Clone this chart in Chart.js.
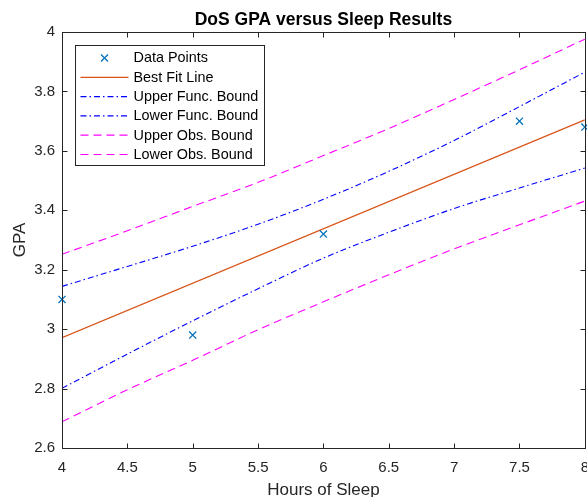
<!DOCTYPE html>
<html>
<head>
<meta charset="utf-8">
<script src="https://cdn.jsdelivr.net/npm/chart.js@4/dist/chart.umd.min.js"></script>
<style>
  html, body { margin: 0; padding: 0; background: #fff; overflow: hidden; }
  #wrap { width: 600px; height: 510px; }
</style>
</head>
<body>
<div id="wrap"><canvas id="sleepChart" width="600" height="510"></canvas></div>
<script>
// measured hours of sleep vs GPA
const hours = [4, 5, 6, 7.5, 8];
const gpa = [3.10, 2.98, 3.32, 3.70, 3.68];

// least squares line, end points
const fitX = [4, 8];
const fitY = [2.971, 3.704];

// confidence bounds, sampled every half hour
const boundX = [4, 4.5, 5, 5.5, 6, 6.5, 7, 7.5, 8];
const upperFunc = [3.144, 3.211, 3.279, 3.353, 3.437, 3.531, 3.635, 3.749, 3.865];
const lowerFunc = [2.801, 2.916, 3.028, 3.136, 3.239, 3.326, 3.406, 3.475, 3.542];
const upperObs = [3.252, 3.331, 3.413, 3.494, 3.584, 3.675, 3.773, 3.873, 3.976];
const lowerObs = [2.688, 2.796, 2.895, 2.998, 3.092, 3.183, 3.270, 3.351, 3.431];

const xTicks = [4, 4.5, 5, 5.5, 6, 6.5, 7, 7.5, 8];
const yTicks = [2.6, 2.8, 3, 3.2, 3.4, 3.6, 3.8, 4];

const axisColor = '#262626';
const fontFamily = '"Liberation Sans", Arial, Helvetica, sans-serif';

const pairs = (xs, ys) => xs.map((x, i) => ({ x: x, y: ys[i] }));

function boundSet(label, xs, ys, color, dash) {
    return {
        label: label,
        data: pairs(xs, ys),
        showLine: true,
        borderColor: color,
        backgroundColor: color,
        borderWidth: 1.1,
        borderDash: dash,
        pointRadius: 0,
        cubicInterpolationMode: 'monotone',
        fill: false
    };
}

const dashDot = [6, 3, 1.5, 3];
const dashed = [8, 5];

// MATLAB style box around the axes with inward tick marks
const axesBox = {
    id: 'axesBox',
    afterDatasetsDraw(chart) {
        const { ctx, chartArea: a, scales } = chart;
        const L = Math.round(a.left) + 0.5, R = Math.round(a.right) + 0.5;
        const T = Math.round(a.top) + 0.5, B = Math.round(a.bottom) + 0.5;
        ctx.save();
        ctx.strokeStyle = axisColor;
        ctx.lineWidth = 1;
        ctx.setLineDash([]);
        ctx.strokeRect(L, T, R - L, B - T);
        ctx.beginPath();
        xTicks.forEach(v => {
            const px = Math.round(scales.x.getPixelForValue(v)) + 0.5;
            ctx.moveTo(px, B); ctx.lineTo(px, B - 5);
            ctx.moveTo(px, T); ctx.lineTo(px, T + 5);
        });
        yTicks.forEach(v => {
            const py = Math.round(scales.y.getPixelForValue(v)) + 0.5;
            ctx.moveTo(L, py); ctx.lineTo(L + 5, py);
            ctx.moveTo(R, py); ctx.lineTo(R - 5, py);
        });
        ctx.stroke();
        ctx.restore();
    }
};

// legend box in the upper left of the plot
const boxLegend = {
    id: 'boxLegend',
    afterDraw(chart) {
        const { ctx, chartArea: a } = chart;
        const x0 = Math.round(a.left) + 13.5, y0 = Math.round(a.top) + 13.5;
        const w = 189, h = 120, rowH = 19.3;
        ctx.save();
        ctx.fillStyle = '#fff';
        ctx.fillRect(x0, y0, w, h);
        ctx.strokeStyle = axisColor;
        ctx.lineWidth = 1;
        ctx.strokeRect(x0, y0, w, h);
        ctx.font = '14.4px ' + fontFamily;
        ctx.textBaseline = 'middle';
        chart.data.datasets.forEach((ds, i) => {
            const cy = y0 + 12.5 + i * rowH;
            const sx = x0 + 5, ex = x0 + 53;
            if (ds.showLine) {
                ctx.save();
                ctx.strokeStyle = ds.borderColor;
                ctx.lineWidth = 1.2;
                ctx.setLineDash(i === 1 ? [] : ds.borderDash);
                ctx.beginPath();
                ctx.moveTo(sx, cy);
                ctx.lineTo(ex, cy);
                ctx.stroke();
                ctx.restore();
            } else {
                const cx = (sx + ex) / 2, r = 3.5;
                ctx.save();
                ctx.strokeStyle = ds.borderColor;
                ctx.lineWidth = 1.3;
                ctx.beginPath();
                ctx.moveTo(cx - r, cy - r); ctx.lineTo(cx + r, cy + r);
                ctx.moveTo(cx - r, cy + r); ctx.lineTo(cx + r, cy - r);
                ctx.stroke();
                ctx.restore();
            }
            ctx.fillStyle = '#000';
            ctx.fillText(ds.label, x0 + 58, cy + 0.5);
        });
        ctx.restore();
    }
};

new Chart(document.getElementById('sleepChart'), {
    type: 'scatter',
    data: {
        datasets: [
            {
                label: 'Data Points',
                data: pairs(hours, gpa),
                showLine: false,
                pointStyle: 'crossRot',
                pointRadius: 5,
                borderWidth: 1.3,
                borderColor: '#0072BD',
                backgroundColor: '#0072BD',
                clip: false
            },
            {
                label: 'Best Fit Line',
                data: pairs(fitX, fitY),
                showLine: true,
                borderColor: '#D95319',
                backgroundColor: '#D95319',
                borderWidth: 1.3,
                pointRadius: 0
            },
            boundSet('Upper Func. Bound', boundX, upperFunc, '#0000FF', dashDot),
            boundSet('Lower Func. Bound', boundX, lowerFunc, '#0000FF', dashDot),
            boundSet('Upper Obs. Bound', boundX, upperObs, '#FF00FF', dashed),
            boundSet('Lower Obs. Bound', boundX, lowerObs, '#FF00FF', dashed)
        ]
    },
    options: {
        responsive: false,
        animation: false,
        devicePixelRatio: 1,
        layout: { padding: { left: 0, right: 12, top: 0, bottom: 0 } },
        plugins: {
            legend: { display: false },
            tooltip: { enabled: false },
            title: {
                display: true,
                text: 'DoS GPA versus Sleep Results',
                fullSize: false,
                color: '#000',
                font: { family: fontFamily, size: 17.5, weight: 'bold' },
                padding: { top: 10, bottom: 1 }
            }
        },
        scales: {
            x: {
                type: 'linear',
                min: 4,
                max: 8,
                afterBuildTicks: s => { s.ticks = xTicks.map(v => ({ value: v })); },
                afterFit: s => { s.height = 62; },
                grid: { display: false, drawTicks: false },
                border: { display: false },
                ticks: {
                    color: axisColor,
                    font: { family: fontFamily, size: 15 },
                    padding: 11,
                    maxRotation: 0,
                    autoSkip: false,
                    callback: v => String(v)
                },
                title: {
                    display: true,
                    text: 'Hours of Sleep',
                    color: axisColor,
                    font: { family: fontFamily, size: 17 },
                    padding: { top: 0, bottom: 9 }
                }
            },
            y: {
                type: 'linear',
                min: 2.6,
                max: 4,
                afterBuildTicks: s => { s.ticks = yTicks.map(v => ({ value: v })); },
                afterFit: s => { s.width = 62; },
                grid: { display: false, drawTicks: false },
                border: { display: false },
                ticks: {
                    color: axisColor,
                    font: { family: fontFamily, size: 15 },
                    padding: 7,
                    autoSkip: false,
                    callback: v => String(Number(v.toFixed(1)))
                },
                title: {
                    display: true,
                    text: 'GPA',
                    color: axisColor,
                    font: { family: fontFamily, size: 17 },
                    padding: { top: 10, bottom: 0 }
                }
            }
        }
    },
    plugins: [axesBox, boxLegend]
});
</script>
</body>
</html>
